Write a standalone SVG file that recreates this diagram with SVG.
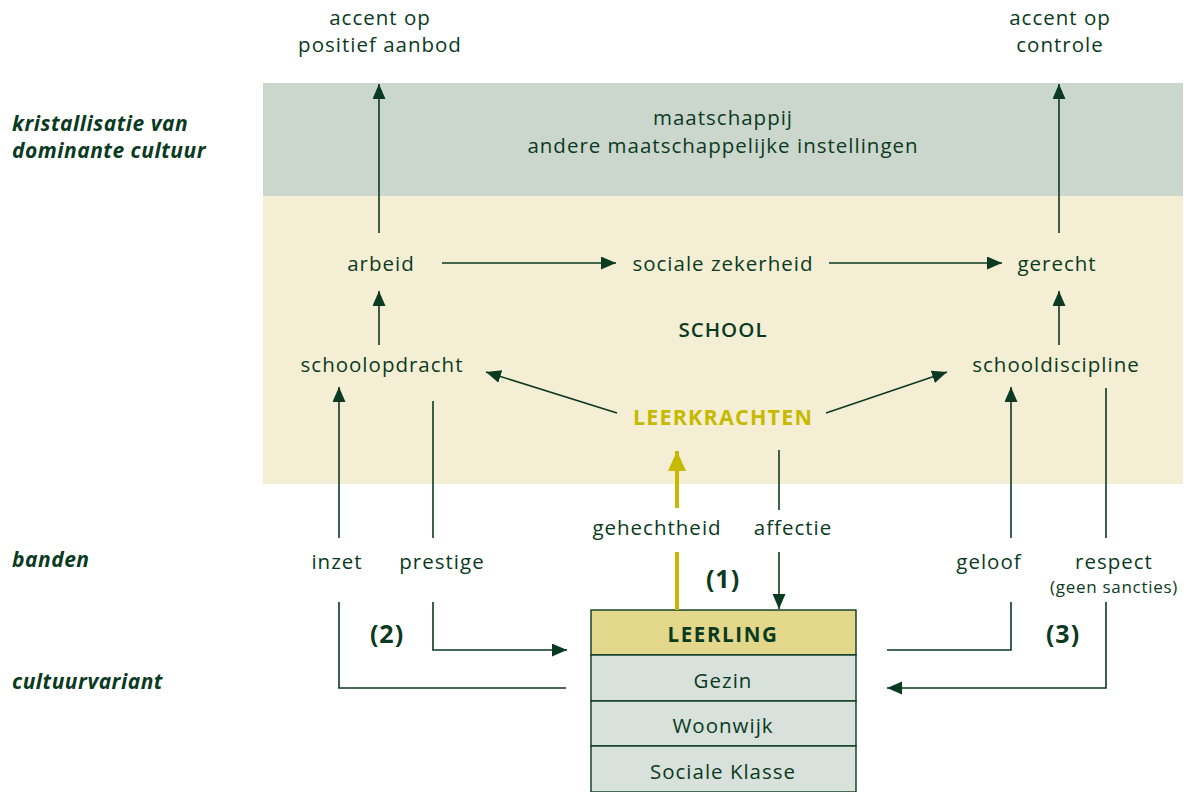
<svg xmlns="http://www.w3.org/2000/svg" width="1190" height="792" viewBox="0 0 1190 792">
<style>
  .t{font-family:"Open Sans","Liberation Sans",sans-serif;font-size:20.5px;fill:#0b3a22;text-anchor:middle;letter-spacing:1px}
  .s{font-size:17px;letter-spacing:0.7px}
  .b{font-weight:700}
  .m{font-weight:600}
  .l{font-family:"Open Sans","Liberation Sans",sans-serif;font-size:21px;font-weight:700;font-style:italic;fill:#0b3a22;letter-spacing:0.5px}
  .ln{fill:none;stroke:#0b3a22;stroke-width:1.6}
  .box{stroke:#0b3a22;stroke-width:1.4}
</style>
<defs>
  <marker id="ah" markerUnits="userSpaceOnUse" markerWidth="16" markerHeight="14" refX="15" refY="6.5" orient="auto">
    <path d="M0,0 L15,6.5 L0,13 z" fill="#0b3a22"/>
  </marker>
  <marker id="ay" markerUnits="userSpaceOnUse" markerWidth="20" markerHeight="20" refX="20" refY="9" orient="auto">
    <path d="M0,0 L20,9 L0,18 z" fill="#c6b900"/>
  </marker>
</defs>

<g id="bands">
  <rect x="263" y="83" width="920" height="113" fill="#cbd7cd"/>
  <rect x="263" y="196" width="920" height="288" fill="#f4efd4"/>
</g>

<g id="labels-left">
  <text class="l" x="12" y="131">kristallisatie van</text>
  <text class="l" x="12" y="158">dominante cultuur</text>
  <text class="l" x="12" y="567">banden</text>
  <text class="l" x="12" y="689">cultuurvariant</text>
</g>

<g id="accent-left"><text class="t" x="380" y="25">accent op</text><text class="t" x="380" y="52">positief aanbod</text></g>
<g id="accent-right"><text class="t" x="1060" y="25">accent op</text><text class="t" x="1060" y="52">controle</text></g>
<g id="maatschappij"><text class="t" x="723" y="125">maatschappij</text><text class="t" x="723" y="153">andere maatschappelijke instellingen</text></g>
<g id="arbeid"><text class="t" x="381" y="271">arbeid</text></g>
<g id="sociale-zekerheid"><text class="t" x="723" y="271">sociale zekerheid</text></g>
<g id="gerecht"><text class="t" x="1057" y="271">gerecht</text></g>
<g id="school"><text class="t m" x="723" y="337">SCHOOL</text></g>
<g id="schoolopdracht"><text class="t" x="382" y="372">schoolopdracht</text></g>
<g id="schooldiscipline"><text class="t" x="1056" y="372">schooldiscipline</text></g>
<g id="leerkrachten"><text class="t b" x="723" y="425" style="fill:#c6b900;font-size:21.5px;letter-spacing:1.2px">LEERKRACHTEN</text></g>
<g id="gehechtheid"><text class="t" x="657" y="535">gehechtheid</text></g>
<g id="affectie"><text class="t" x="793" y="535">affectie</text></g>
<g id="inzet"><text class="t" x="337" y="569">inzet</text></g>
<g id="prestige"><text class="t" x="442" y="569">prestige</text></g>
<g id="geloof"><text class="t" x="989" y="569">geloof</text></g>
<g id="respect"><text class="t" x="1114" y="569">respect</text><text class="t s" x="1114" y="593">(geen sancties)</text></g>
<g id="n1"><text class="t b" x="723" y="588" style="font-size:25px">(1)</text></g>
<g id="n2"><text class="t b" x="387" y="643" style="font-size:25px">(2)</text></g>
<g id="n3"><text class="t b" x="1063" y="643" style="font-size:25px">(3)</text></g>

<g id="leerling">
  <rect class="box" x="591" y="610" width="265" height="45" fill="#e2d78a"/>
  <text class="t b" x="723" y="642" style="font-size:20.5px;letter-spacing:1.6px">LEERLING</text>
</g>
<g id="gezin">
  <rect class="box" x="591" y="655" width="265" height="46" fill="#d8e1db"/>
  <text class="t" x="723" y="688">Gezin</text>
</g>
<g id="woonwijk">
  <rect class="box" x="591" y="701" width="265" height="45" fill="#d8e1db"/>
  <text class="t" x="723" y="733">Woonwijk</text>
</g>
<g id="sociale-klasse">
  <rect class="box" x="591" y="746" width="265" height="46" fill="#d8e1db"/>
  <text class="t" x="723" y="779">Sociale Klasse</text>
</g>

<g id="connectors">
  <line class="ln" x1="379" y1="233" x2="379" y2="84" marker-end="url(#ah)"/>
  <line class="ln" x1="1059" y1="233" x2="1059" y2="84" marker-end="url(#ah)"/>
  <line class="ln" x1="442" y1="263" x2="616" y2="263" marker-end="url(#ah)"/>
  <line class="ln" x1="829" y1="263" x2="1002" y2="263" marker-end="url(#ah)"/>
  <line class="ln" x1="379" y1="345" x2="379" y2="291" marker-end="url(#ah)"/>
  <line class="ln" x1="1059" y1="345" x2="1059" y2="291" marker-end="url(#ah)"/>
  <line class="ln" x1="617" y1="413" x2="486" y2="372" marker-end="url(#ah)"/>
  <line class="ln" x1="826" y1="413" x2="947" y2="372" marker-end="url(#ah)"/>
  <line class="ln" x1="339" y1="538" x2="339" y2="387" marker-end="url(#ah)"/>
  <polyline class="ln" points="339,602 339,688 566,688"/>
  <line class="ln" x1="433" y1="401" x2="433" y2="538"/>
  <polyline class="ln" points="433,602 433,650 567,650" marker-end="url(#ah)"/>
  <line x1="677" y1="508" x2="677" y2="451" stroke="#c6b900" stroke-width="4" marker-end="url(#ay)"/>
  <line x1="677" y1="552" x2="677" y2="610" stroke="#c6b900" stroke-width="4"/>
  <line class="ln" x1="779" y1="450" x2="779" y2="510"/>
  <line class="ln" x1="779" y1="552" x2="779" y2="609" marker-end="url(#ah)"/>
  <line class="ln" x1="1011" y1="538" x2="1011" y2="387" marker-end="url(#ah)"/>
  <polyline class="ln" points="1011,602 1011,650 887,650"/>
  <line class="ln" x1="1106" y1="388" x2="1106" y2="538"/>
  <polyline class="ln" points="1106,602 1106,688 887,688" marker-end="url(#ah)"/>
</g>
</svg>
